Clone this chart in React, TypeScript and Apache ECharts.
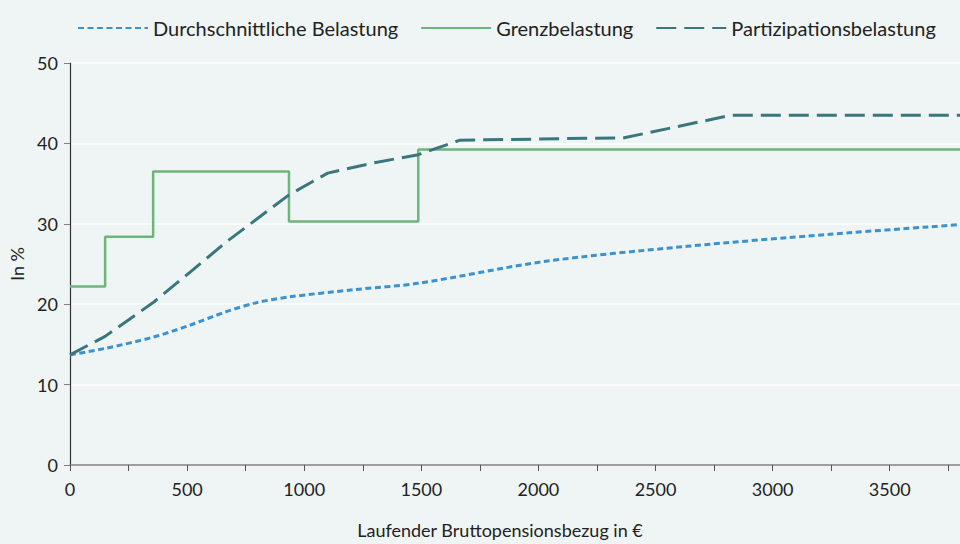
import React, { useEffect, useRef } from "react";
import * as echarts from "echarts";

const seriesNames = ["Durchschnittliche Belastung", "Grenzbelastung", "Partizipationsbelastung"];

// [Bruttopensionsbezug in €, Belastung in %]
const durchschnitt: [number, number][] = [
  [0, 13.7], [150, 14.5], [355, 15.9], [513, 17.4], [670, 19.1], [798, 20.2], [935, 20.9],
  [1211, 21.8], [1487, 22.6], [2022, 25.3], [2634, 27.2], [3245, 28.7], [3800, 29.9],
];
const grenz: [number, number][] = [
  [0, 22.2], [150, 22.2], [150, 28.4], [355, 28.4], [355, 36.5], [935, 36.5],
  [935, 30.3], [1487, 30.3], [1487, 39.25], [3800, 39.25],
];
const partizipation: [number, number][] = [
  [0, 13.7], [150, 16.0], [355, 20.2], [513, 24.0], [670, 27.8], [935, 33.6], [1100, 36.3],
  [1300, 37.6], [1487, 38.6], [1665, 40.4], [2366, 40.7], [2823, 43.5], [3800, 43.5],
];

const FONT = "Lato";

export default function App() {
  const ref = useRef<HTMLDivElement>(null);
  useEffect(() => {
    const chart = echarts.init(ref.current!, null, { renderer: "svg" });
    chart.setOption({
      animation: false,
      backgroundColor: "#eff5f5",
      textStyle: { fontFamily: FONT, color: "#222" },
      legend: {
        left: 72,
        top: 13,
        itemWidth: 70,
        itemHeight: 12,
        itemGap: 22,
        itemStyle: { opacity: 0 },
        textStyle: { fontFamily: FONT, fontSize: 20, color: "#222" },
        data: seriesNames,
      },
      grid: { left: 70, right: 0, top: 63, bottom: 76, containLabel: false },
      xAxis: {
        type: "value",
        min: 0,
        max: 3800,
        interval: 250,
        name: "Laufender Bruttopensionsbezug in €",
        nameLocation: "middle",
        nameGap: 56,
        nameTextStyle: { fontFamily: FONT, fontSize: 18, color: "#222", padding: [0, 30, 0, 0] },
        axisLine: { show: true, lineStyle: { color: "#7f7f7f", width: 1.5 } },
        axisTick: { show: true, length: 6, lineStyle: { color: "#555" } },
        axisLabel: {
          fontFamily: FONT,
          fontSize: 18,
          color: "#222",
          margin: 15,
          showMaxLabel: false,
          formatter: (v: number) => (v % 500 === 0 ? String(v) : ""),
        },
        splitLine: { show: false },
      },
      yAxis: {
        type: "value",
        min: 0,
        max: 50,
        interval: 10,
        name: "In %",
        nameLocation: "middle",
        nameGap: 41,
        nameTextStyle: { fontFamily: FONT, fontSize: 18, color: "#222" },
        axisLine: { show: true, lineStyle: { color: "#333", width: 1.2 } },
        axisTick: { show: true, length: 6, lineStyle: { color: "#7f7f7f" } },
        axisLabel: { fontFamily: FONT, fontSize: 18, color: "#222", margin: 12 },
        splitLine: { show: true, lineStyle: { color: "#ffffff", width: 1.5 } },
      },
      series: [
        {
          name: seriesNames[0],
          type: "line",
          data: durchschnitt,
          smooth: 0.3,
          showSymbol: false,
          symbol: "none",
          lineStyle: { color: "#3b92cf", width: 3, type: [6, 3.5] },
          itemStyle: { color: "#3b92cf" },
        },
        {
          name: seriesNames[1],
          type: "line",
          data: grenz,
          showSymbol: false,
          symbol: "none",
          lineStyle: { color: "#6db57c", width: 2.5 },
          itemStyle: { color: "#6db57c" },
        },
        {
          name: seriesNames[2],
          type: "line",
          data: partizipation,
          showSymbol: false,
          symbol: "none",
          lineStyle: { color: "#3a777d", width: 3, type: [20, 8] },
          itemStyle: { color: "#3a777d" },
        },
      ],
    });
    return () => chart.dispose();
  }, []);
  return (
    <div
      ref={ref}
      style={{ position: "fixed", left: 0, top: 0, width: 960, height: 544 }}
    />
  );
}
